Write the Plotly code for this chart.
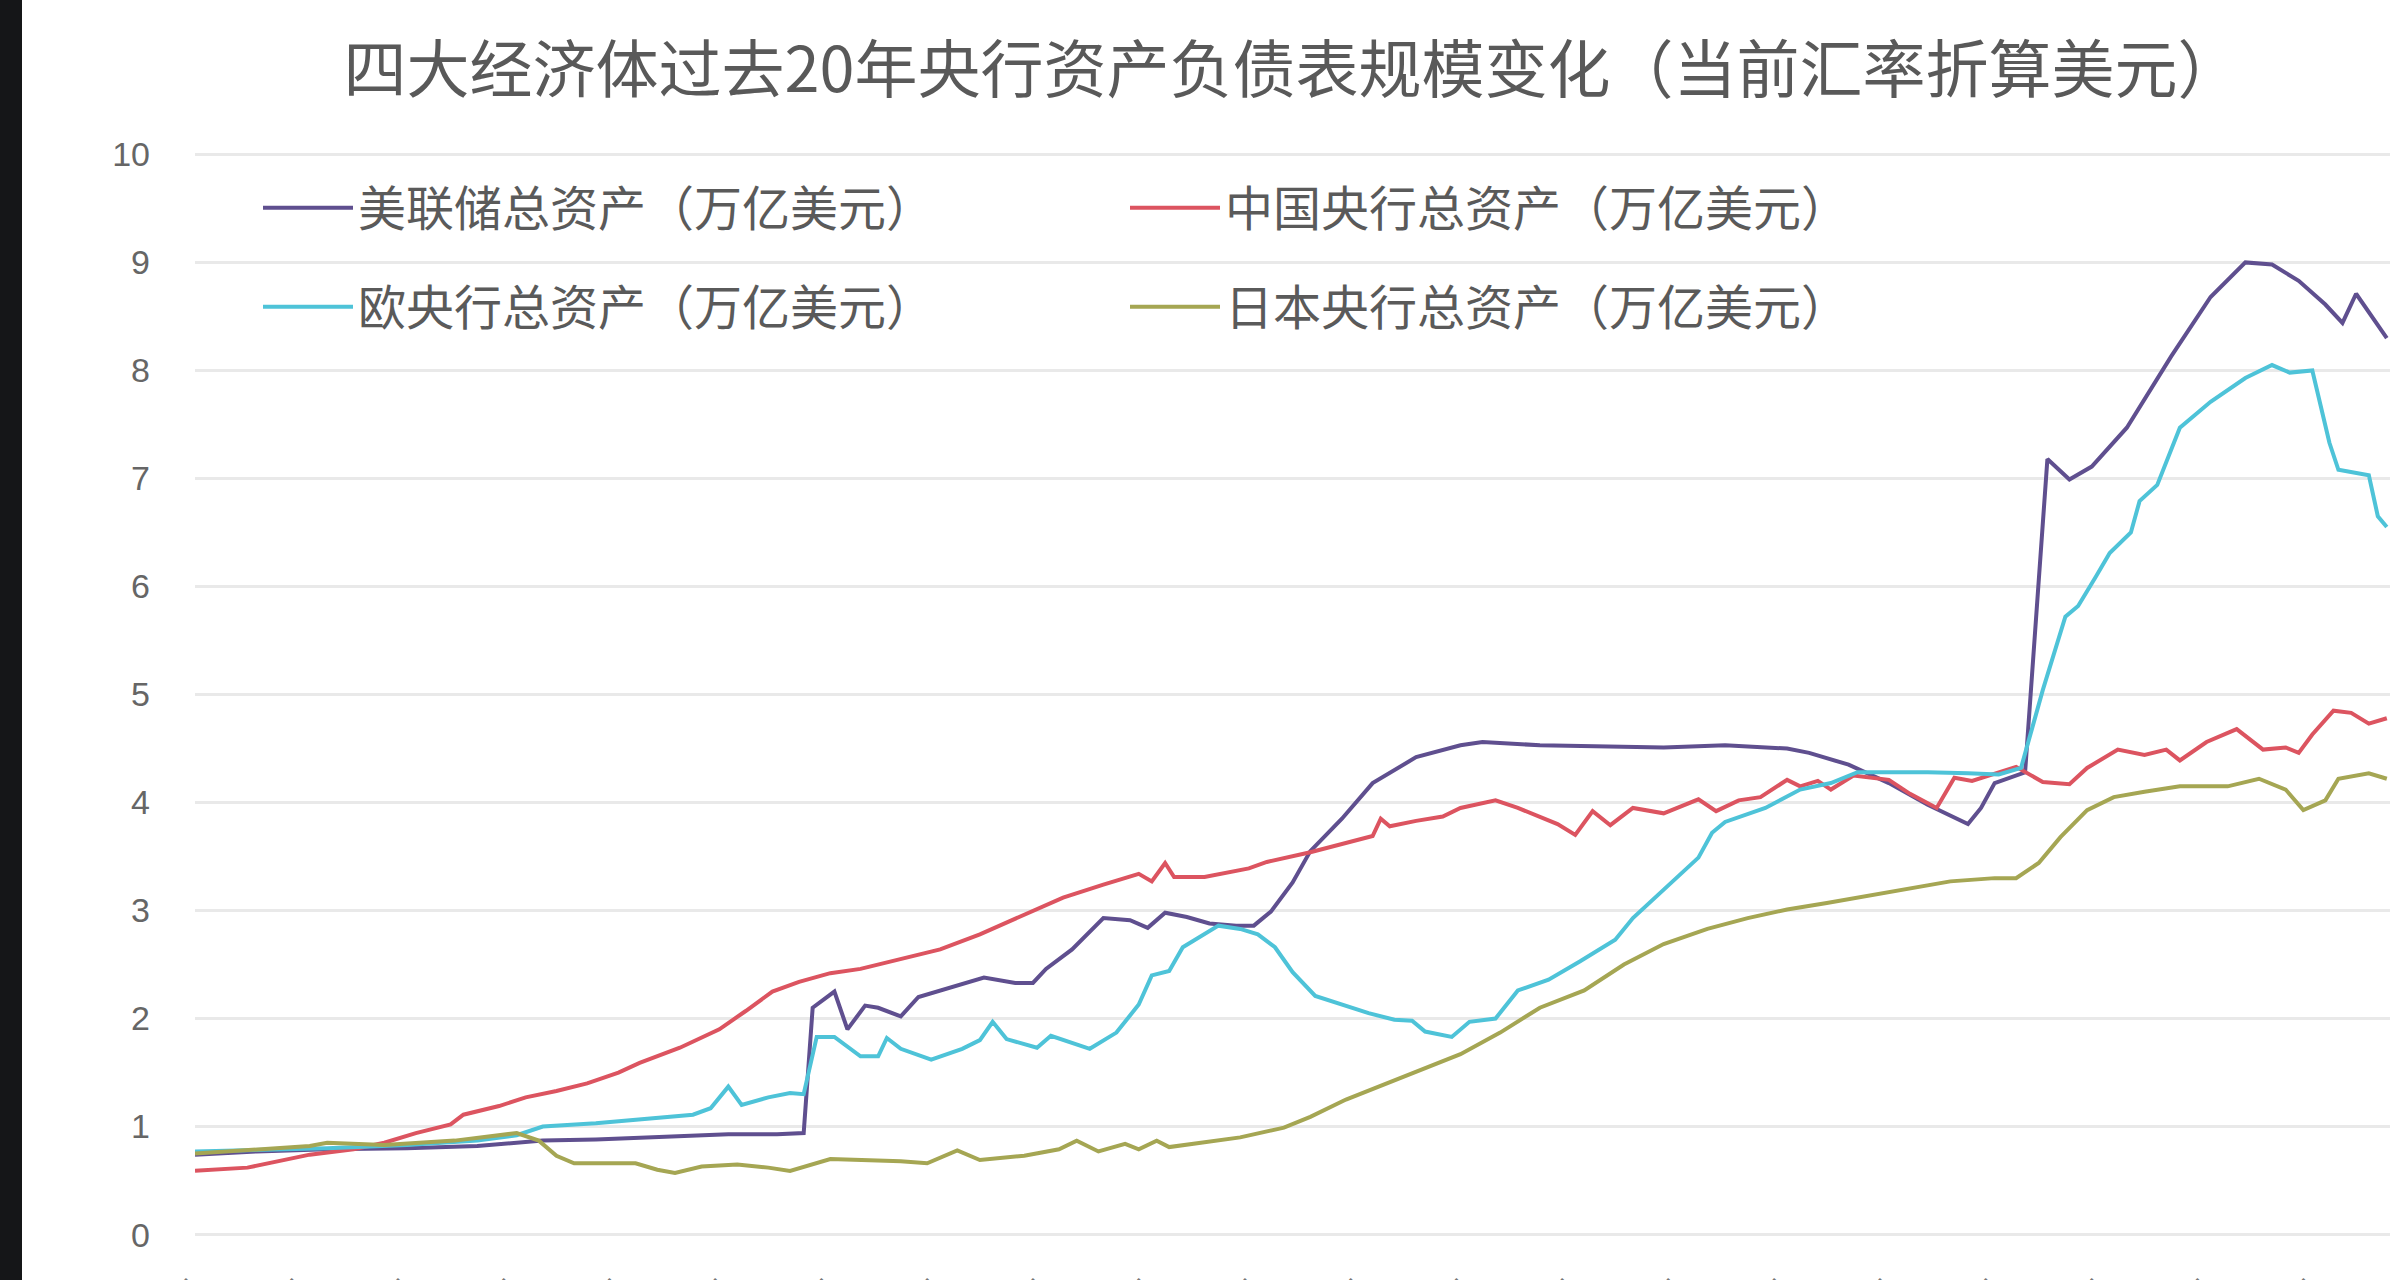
import plotly.graph_objects as go

TITLE = "四大经济体过去20年央行资产负债表规模变化（当前汇率折算美元）"
NAMES = ["美联储总资产（万亿美元）", "中国央行总资产（万亿美元）",
         "欧央行总资产（万亿美元）", "日本央行总资产（万亿美元）"]
COLORS = ["#5f4f8f", "#dc5460", "#4ec3d8", "#a5a653"]
Y_TICKS = list(range(0, 11))

fed_dates = ["2003-01-01", "2003-08-01", "2004-04-01", "2005-01-01", "2005-09-01", "2006-04-15",
             "2006-10-15", "2007-05-15", "2008-01-15", "2008-07-01", "2008-10-01", "2008-11-01",
             "2009-01-15", "2009-03-01", "2009-05-01", "2009-06-15", "2009-09-01", "2009-11-01",
             "2010-02-15", "2010-06-15", "2010-10-01", "2010-12-01", "2011-01-15", "2011-04-15",
             "2011-08-01", "2011-11-01", "2012-01-01", "2012-03-01", "2012-05-15", "2012-08-01",
             "2012-11-01", "2013-01-01", "2013-03-01", "2013-05-15", "2013-07-15", "2013-11-01",
             "2014-02-15", "2014-07-15", "2014-12-15", "2015-03-01", "2015-09-15", "2016-11-15",
             "2017-06-15", "2018-01-15", "2018-04-01", "2018-08-15", "2019-01-01", "2019-05-15",
             "2019-10-01", "2019-11-15", "2020-01-01", "2020-04-15", "2020-07-01", "2020-09-15",
             "2020-12-01", "2021-04-01", "2021-09-01", "2022-01-15", "2022-05-15", "2022-08-15",
             "2022-11-15", "2023-02-15", "2023-04-15", "2023-06-01", "2023-09-15"]
fed_values = [0.74, 0.77, 0.79, 0.80, 0.82, 0.87,
              0.88, 0.90, 0.93, 0.93, 0.94, 2.10,
              2.25, 1.90, 2.12, 2.10, 2.02, 2.20,
              2.28, 2.38, 2.33, 2.33, 2.46, 2.64,
              2.93, 2.91, 2.84, 2.98, 2.94, 2.88,
              2.86, 2.86, 2.99, 3.26, 3.55, 3.85,
              4.18, 4.42, 4.53, 4.56, 4.53, 4.51,
              4.53, 4.50, 4.46, 4.35, 4.18, 3.98,
              3.80, 3.95, 4.18, 4.28, 7.18, 6.99,
              7.11, 7.47, 8.13, 8.68, 9.00, 8.98,
              8.83, 8.61, 8.44, 8.71, 8.30]

china_dates = ["2003-01-01", "2003-07-01", "2004-02-01", "2004-07-01", "2004-10-15", "2005-02-01",
               "2005-06-01", "2005-07-15", "2005-11-15", "2006-02-15", "2006-06-01", "2006-09-15",
               "2007-01-01", "2007-03-15", "2007-08-01", "2007-12-15", "2008-03-15", "2008-06-15",
               "2008-09-15", "2008-11-15", "2009-01-01", "2009-04-15", "2009-09-01", "2010-01-15",
               "2010-06-01", "2010-11-01", "2011-03-15", "2011-08-01", "2011-12-01", "2012-01-15",
               "2012-03-01", "2012-04-01", "2012-07-15", "2012-12-15", "2013-02-15", "2013-07-15",
               "2013-12-01", "2014-02-15", "2014-03-15", "2014-04-15", "2014-07-15", "2014-10-15",
               "2014-12-15", "2015-04-15", "2015-07-01", "2015-11-15", "2016-01-15", "2016-03-15",
               "2016-05-15", "2016-08-01", "2016-11-15", "2017-03-15", "2017-05-15", "2017-08-01",
               "2017-10-15", "2018-01-15", "2018-03-01", "2018-05-01", "2018-06-15", "2018-09-01",
               "2019-01-01", "2019-03-15", "2019-06-15", "2019-08-15", "2019-10-15", "2020-01-15",
               "2020-03-15", "2020-06-15", "2020-09-15", "2020-11-15", "2021-03-01", "2021-06-01",
               "2021-08-15", "2021-10-01", "2022-01-01", "2022-04-15", "2022-07-15", "2022-10-01",
               "2022-11-15", "2023-01-01", "2023-03-15", "2023-05-15", "2023-07-15", "2023-09-15"]
china_values = [0.59, 0.62, 0.74, 0.79, 0.85, 0.94,
                1.02, 1.11, 1.19, 1.27, 1.33, 1.40,
                1.50, 1.59, 1.73, 1.90, 2.07, 2.25,
                2.34, 2.38, 2.42, 2.46, 2.55, 2.64,
                2.78, 2.96, 3.12, 3.24, 3.34, 3.27,
                3.44, 3.31, 3.31, 3.39, 3.45, 3.54,
                3.64, 3.69, 3.85, 3.78, 3.83, 3.87,
                3.95, 4.02, 3.95, 3.80, 3.70, 3.92,
                3.79, 3.95, 3.90, 4.03, 3.92, 4.02,
                4.05, 4.21, 4.15, 4.20, 4.12, 4.25,
                4.21, 4.08, 3.95, 4.23, 4.20, 4.28,
                4.33, 4.19, 4.17, 4.32, 4.49, 4.44,
                4.49, 4.39, 4.56, 4.68, 4.49, 4.51,
                4.46, 4.63, 4.85, 4.83, 4.73, 4.78]

ecb_dates = ["2003-01-01", "2003-08-01", "2004-04-01", "2005-01-01", "2005-09-01", "2006-01-15",
             "2006-04-15", "2006-10-15", "2007-05-15", "2007-09-15", "2007-11-15", "2008-01-15",
             "2008-03-01", "2008-06-01", "2008-08-15", "2008-10-01", "2008-11-15", "2009-01-15",
             "2009-04-15", "2009-06-15", "2009-07-15", "2009-09-01", "2009-12-15", "2010-04-01",
             "2010-06-01", "2010-07-15", "2010-09-01", "2010-12-15", "2011-02-01", "2011-06-15",
             "2011-09-15", "2011-12-01", "2012-01-15", "2012-03-15", "2012-05-01", "2012-07-01",
             "2012-09-01", "2012-11-15", "2013-01-15", "2013-03-15", "2013-05-15", "2013-08-01",
             "2013-12-01", "2014-02-01", "2014-05-01", "2014-07-01", "2014-08-15", "2014-11-15",
             "2015-01-15", "2015-04-15", "2015-07-01", "2015-10-15", "2016-02-01", "2016-06-01",
             "2016-08-01", "2016-11-15", "2017-03-15", "2017-05-01", "2017-06-15", "2017-11-01",
             "2018-03-01", "2018-06-15", "2018-09-15", "2019-01-01", "2019-05-15", "2019-10-01",
             "2020-01-15", "2020-04-01", "2020-06-15", "2020-09-01", "2020-10-15", "2020-12-15",
             "2021-02-01", "2021-04-15", "2021-05-15", "2021-07-15", "2021-10-01", "2022-01-15",
             "2022-05-15", "2022-08-15", "2022-10-15", "2023-01-01", "2023-03-01", "2023-04-01",
             "2023-07-15", "2023-08-15", "2023-09-15"]
ecb_values = [0.77, 0.78, 0.80, 0.83, 0.87, 0.92,
              1.00, 1.03, 1.08, 1.11, 1.17, 1.37,
              1.20, 1.27, 1.31, 1.30, 1.83, 1.83,
              1.65, 1.65, 1.82, 1.72, 1.62, 1.72,
              1.80, 1.97, 1.81, 1.73, 1.84, 1.72,
              1.87, 2.13, 2.40, 2.44, 2.66, 2.76,
              2.86, 2.83, 2.78, 2.66, 2.43, 2.21,
              2.10, 2.05, 1.99, 1.98, 1.88, 1.83,
              1.97, 2.00, 2.26, 2.36, 2.53, 2.73,
              2.93, 3.19, 3.49, 3.72, 3.82, 3.95,
              4.12, 4.18, 4.28, 4.28, 4.28, 4.27,
              4.26, 4.32, 5.04, 5.72, 5.82, 6.09,
              6.31, 6.50, 6.79, 6.94, 7.47, 7.71,
              7.93, 8.05, 7.98, 8.00, 7.33, 7.08,
              7.03, 6.65, 6.55]

japan_dates = ["2003-01-01", "2003-05-01", "2004-02-01", "2004-04-01", "2004-10-15", "2005-06-15",
               "2006-01-15", "2006-04-01", "2006-06-01", "2006-08-01", "2007-03-01", "2007-05-15",
               "2007-07-15", "2007-10-15", "2008-02-15", "2008-06-01", "2008-08-15", "2009-01-01",
               "2009-09-01", "2009-12-01", "2010-03-15", "2010-06-01", "2010-11-01", "2011-03-01",
               "2011-05-01", "2011-07-15", "2011-10-15", "2011-12-01", "2012-02-01", "2012-03-15",
               "2012-07-01", "2012-11-15", "2013-04-15", "2013-07-15", "2013-11-15", "2014-03-15",
               "2014-07-15", "2014-12-15", "2015-05-01", "2015-09-15", "2016-02-15", "2016-07-01",
               "2016-11-15", "2017-04-15", "2017-09-01", "2018-01-15", "2018-06-01", "2018-11-01",
               "2019-03-15", "2019-08-01", "2020-01-01", "2020-03-15", "2020-06-01", "2020-08-15",
               "2020-11-15", "2021-02-15", "2021-06-01", "2021-10-01", "2022-03-15", "2022-07-01",
               "2022-10-01", "2022-12-01", "2023-02-15", "2023-04-01", "2023-07-15", "2023-09-15"]
japan_values = [0.75, 0.77, 0.82, 0.85, 0.83, 0.87,
                0.94, 0.87, 0.73, 0.66, 0.66, 0.60,
                0.57, 0.63, 0.65, 0.62, 0.59, 0.70,
                0.68, 0.66, 0.78, 0.69, 0.73, 0.79,
                0.87, 0.77, 0.84, 0.79, 0.87, 0.81,
                0.85, 0.90, 0.99, 1.09, 1.25, 1.38,
                1.51, 1.67, 1.87, 2.10, 2.26, 2.50,
                2.69, 2.83, 2.93, 3.01, 3.07, 3.14,
                3.21, 3.27, 3.30, 3.30, 3.44, 3.68,
                3.93, 4.05, 4.10, 4.15, 4.15, 4.22,
                4.12, 3.93, 4.02, 4.22, 4.27, 4.22]

W, H = 2390, 1280
Y_PAD = 0.05
ML, MR, MT, MB = 195, 0, 149, 40
PW, PH = W - ML - MR, H - MT - MB


def ypaper(px):
    """paper y for a pixel row (from top)"""
    return (H - MB - px) / PH


series = [(fed_dates, fed_values), (china_dates, china_values),
          (ecb_dates, ecb_values), (japan_dates, japan_values)]
legend_of = ["legend", "legend", "legend2", "legend2"]

fig = go.Figure()
for (d, v), name, col, lg in zip(series, NAMES, COLORS, legend_of):
    fig.add_trace(go.Scatter(x=d, y=v, mode="lines", name=name,
                             line=dict(color=col, width=4), legend=lg))

legend_common = dict(orientation="h", xanchor="left", yanchor="middle",
                     font=dict(family="Noto Sans CJK SC", size=48, color="#5a5a5a"),
                     entrywidth=762, entrywidthmode="pixels", itemwidth=90,
                     bgcolor="rgba(0,0,0,0)", borderwidth=0)

fig.update_layout(
    width=W, height=H,
    margin=dict(l=ML, r=MR, t=MT, b=MB, autoexpand=False),
    paper_bgcolor="white", plot_bgcolor="white",
    title=dict(text=TITLE, x=1292 / W, xanchor="center", y=1 - 70 / H, yanchor="middle",
               yref="container", xref="container", automargin=False,
               font=dict(family="Noto Sans CJK SC", size=63, color="#595959")),
    legend=dict(x=(258 - ML) / PW, y=ypaper(208), **legend_common),
    legend2=dict(x=(258 - ML) / PW, y=ypaper(307), **legend_common),
    xaxis=dict(type="date", range=["2003-01-01", "2023-09-26"], showgrid=False,
               zeroline=False, showline=False, dtick="M12", tick0="2003-01-01",
               tickformat="%Y-%m", tickangle=-45, ticks="", automargin=False,
               tickfont=dict(family="Noto Sans CJK SC", size=30, color="#777"),
               ticklabelstandoff=22),
    yaxis=dict(range=[-Y_PAD, 10 + Y_PAD], tickvals=Y_TICKS, showgrid=True, gridcolor="#e9e9e9",
               gridwidth=3, zeroline=False, showline=False, ticks="", automargin=False,
               tickfont=dict(family="Liberation Sans Narrow, Liberation Sans", size=34, color="#666"),
               ticklabelstandoff=44),
    shapes=[dict(type="rect", xref="paper", yref="paper",
                 x0=-ML / PW, x1=(22 - ML) / PW, y0=-MB / PH, y1=1 + MT / PH,
                 fillcolor="#151618", line=dict(width=0), layer="above")],
)

fig.write_html("out.html", config={"displayModeBar": False},
               post_script="document.body.style.margin='0';document.body.style.overflow='hidden';")
